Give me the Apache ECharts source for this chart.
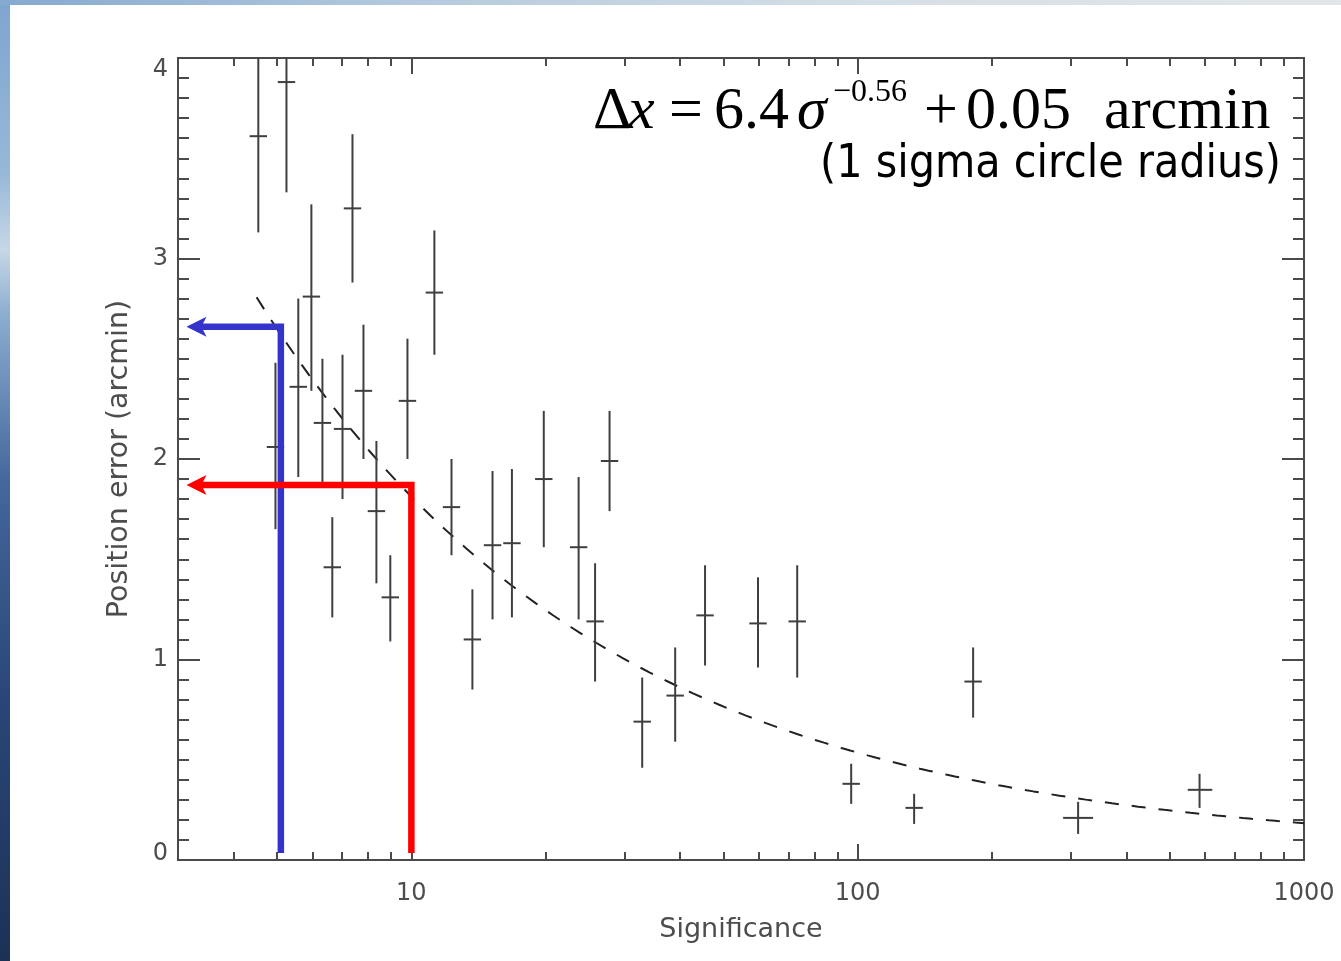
<!DOCTYPE html>
<html>
<head>
<meta charset="utf-8">
<script src="https://cdn.jsdelivr.net/npm/echarts@6/dist/echarts.min.js"></script>
<style>
  html, body { margin: 0; padding: 0; background: #fff; }
  #chart { width: 1341px; height: 961px; }
</style>
</head>
<body>
<div id="chart"></div>
<script>
// Detection significance of each source (x) and its measured position error (arcmin)
const sigma    = [4.54, 5.25, 4.96, 5.58, 5.97, 6.32, 6.65, 7.01, 7.38, 7.81, 8.35, 8.97, 9.80, 11.26, 12.3, 13.7,
                  15.2, 16.8, 19.8, 23.7, 25.8, 27.8, 32.9, 39.0, 45.5, 59.8, 73.2, 96.7, 133.8, 181.4, 311.8, 583.4];
const posErr   = [3.61, 3.88, 2.06, 2.36, 2.81, 2.18, 1.46, 2.15, 3.25, 2.34, 1.74, 1.31, 2.29, 2.83, 1.76, 1.10,
                  1.57, 1.58, 1.90, 1.56, 1.19, 1.99, 0.69, 0.82, 1.22, 1.18, 1.19, 0.38, 0.26, 0.89, 0.21, 0.35];
const errLow   = [3.13, 3.33, 1.65, 1.91, 2.34, 1.86, 1.21, 1.80, 2.88, 2.00, 1.38, 1.09, 2.00, 2.52, 1.52, 0.85,
                  1.20, 1.21, 1.56, 1.20, 0.89, 1.74, 0.46, 0.59, 0.97, 0.96, 0.91, 0.28, 0.18, 0.71, 0.13, 0.26];
const errHigh  = [4.08, 4.43, 2.48, 2.80, 3.27, 2.50, 1.71, 2.52, 3.62, 2.67, 2.09, 1.52, 2.60, 3.14, 2.00, 1.35,
                  1.94, 1.95, 2.24, 1.91, 1.48, 2.24, 0.91, 1.06, 1.47, 1.41, 1.47, 0.48, 0.33, 1.06, 0.29, 0.43];
// Significance range of the two widest bins (others use the default marker width)
const sigLow   = [null, null, null, null, null, null, null, null, null, null, null, null, null, null, null, null,
                  null, null, null, null, null, null, null, null, null, null, null, null, null, null, 288.6, 549.0];
const sigHigh  = [null, null, null, null, null, null, null, null, null, null, null, null, null, null, null, null,
                  null, null, null, null, null, null, null, null, null, null, null, null, null, null, 336.9, 623.0];

// Fitted relation: dx = fitNorm * sigma^fitIndex + fitOffset
const fitNorm = 6.4, fitIndex = -0.56, fitOffset = 0.05;
const fitStart = 4.5, fitEnd = 1000;

// Read-off guides
const blueGuide = { sigma: 5.1, level: 2.66 };
const redGuide  = { sigma: 10,  level: 1.87 };
const guideBase = 0.035, guideTip = 3.3;

// Axis ticks
const xMajorTicks = [10, 100, 1000];
const xMinorTicks = [4, 5, 6, 7, 8, 9, 20, 30, 40, 50, 60, 70, 80, 90, 200, 300, 400, 500, 600, 700, 800, 900];
const xRange = [3, 1000];
const yRange = [0, 4];

const fitCurve = [];
for (let k = 0; k <= 120; k++) {
  const s = fitStart * Math.pow(fitEnd / fitStart, k / 120);
  fitCurve.push([s, fitNorm * Math.pow(s, fitIndex) + fitOffset]);
}

const crosses = sigma.map((s, i) => [s, posErr[i], errLow[i], errHigh[i],
  sigLow[i] == null ? '-' : sigLow[i], sigHigh[i] == null ? '-' : sigHigh[i]]);

const axisColor = '#4a4a4a';
const labelFont = 'DejaVu Sans';
const labelColor = '#4d4d4d';

function logAxis(position, ticks, len, withLabels) {
  return {
    type: 'log', logBase: 10, min: xRange[0], max: xRange[1], position: position,
    axisLine: { show: true, lineStyle: { color: axisColor, width: 2 } },
    axisTick: { show: true, inside: true, length: len, customValues: ticks,
                lineStyle: { color: axisColor, width: 2 } },
    axisLabel: withLabels ? {
      show: true, customValues: ticks, margin: 22,
      fontFamily: labelFont, fontSize: 24, color: labelColor,
      formatter: v => String(Math.round(v))
    } : { show: false },
    splitLine: { show: false }, minorTick: { show: false }, minorSplitLine: { show: false }
  };
}

const yTickRich = {
  lo: { fontFamily: labelFont, fontSize: 24, color: labelColor, padding: [0, 0, 12, 0] },
  hi: { fontFamily: labelFont, fontSize: 24, color: labelColor, padding: [24, 0, 0, 0] }
};

function linAxis(position, withLabels) {
  return {
    type: 'value', min: yRange[0], max: yRange[1], interval: 1, position: position,
    axisLine: { show: true, lineStyle: { color: axisColor, width: 2 } },
    axisTick: { show: true, inside: true, length: 22, lineStyle: { color: axisColor, width: 2 } },
    minorTick: { show: true, splitNumber: 10, length: 11, lineStyle: { color: axisColor, width: 2 } },
    axisLabel: withLabels ? {
      show: true, margin: 10, fontFamily: labelFont, fontSize: 24, color: labelColor,
      rich: yTickRich,
      formatter: v => v === yRange[0] ? '{lo|' + v + '}' : (v === yRange[1] ? '{hi|' + v + '}' : String(v))
    } : { show: false },
    splitLine: { show: false }, minorSplitLine: { show: false }
  };
}

const xBottom = logAxis('bottom', xMajorTicks, 16, true);
Object.assign(xBottom, {
  name: 'Significance', nameLocation: 'middle', nameGap: 56,
  nameTextStyle: { fontFamily: labelFont, fontSize: 27, color: labelColor }
});
const yLeft = linAxis('left', true);
Object.assign(yLeft, {
  name: 'Position error (arcmin)', nameLocation: 'middle', nameGap: 44,
  nameTextStyle: { fontFamily: labelFont, fontSize: 28.5, color: labelColor }
});

const serif = 'Liberation Serif, Times New Roman, serif';
const mainSize = 60, supSize = 32, mainBaselineMid = 112;
function piece(x, text, opts) {
  return {
    type: 'text', x: x, y: (opts && opts.y) || mainBaselineMid, z: 50,
    style: Object.assign({
      text: text, fill: '#000', font: 'normal ' + mainSize + 'px ' + serif,
      textAlign: 'left', textVerticalAlign: 'middle'
    }, opts && opts.style)
  };
}

const guideBlue = '#3434cc', guideRed = '#ff0000';
const arrowPath = 'path://M0,10 L20,0 L15,10 L20,20 Z';

const chart = echarts.init(document.getElementById('chart'), null, { renderer: 'canvas' });
chart.setOption({
  backgroundColor: '#ffffff',
  animation: false,
  grid: { left: 178, right: 37, top: 58, bottom: 101, containLabel: false },
  xAxis: [
    xBottom,
    logAxis('bottom', xMinorTicks, 8, false),
    logAxis('top', xMajorTicks, 16, false),
    logAxis('top', xMinorTicks, 8, false)
  ],
  yAxis: [yLeft, linAxis('right', false)],
  graphic: [
    // slide frame strips
    { type: 'rect', left: 0, top: 0, z: -10, shape: { width: 10, height: 961 },
      style: { fill: new echarts.graphic.LinearGradient(0, 0, 0, 1, [
        { offset: 0, color: '#7fa5cf' }, { offset: 0.18, color: '#97b8d8' },
        { offset: 0.26, color: '#c6d7e6' }, { offset: 0.33, color: '#8aaccf' },
        { offset: 0.5, color: '#45679c' }, { offset: 0.72, color: '#2a4778' },
        { offset: 1, color: '#1d3156' }]) } },
    { type: 'rect', left: 0, top: 0, z: -10, shape: { width: 1341, height: 5 },
      style: { fill: new echarts.graphic.LinearGradient(0, 0, 1, 0, [
        { offset: 0, color: '#86a9d0' }, { offset: 0.3, color: '#b3c9de' },
        { offset: 0.65, color: '#d6dfe6' }, { offset: 1, color: '#e2e6e8' }]) } },
    // fitted relation
    piece(593, 'Δ'),
    piece(628, 'x', { style: { font: 'italic ' + mainSize + 'px ' + serif } }),
    piece(669, '='),
    piece(714, '6.4'),
    piece(797, 'σ', { style: { font: 'italic ' + mainSize + 'px ' + serif } }),
    piece(833, '\u22120.56', { y: 93, style: { font: 'normal ' + supSize + 'px ' + serif } }),
    piece(924, '+'),
    piece(966, '0.05'),
    piece(1104, 'arcmin'),
    { type: 'text', x: 1281, y: 165, z: 50,
      style: { text: '(1 sigma circle radius)', fill: '#000',
               font: 'normal 46px "DejaVu Sans Condensed", "Liberation Sans", sans-serif',
               textAlign: 'right', textVerticalAlign: 'middle' } }
  ],
  series: [
    {
      type: 'custom', name: 'sources', xAxisIndex: 0, yAxisIndex: 0, clip: true, z: 3,
      data: crosses,
      renderItem: function (params, api) {
        const s = api.value(0), v = api.value(1), lo = api.value(2), hi = api.value(3);
        const sl = api.value(4), sh = api.value(5);
        const c = api.coord([s, v]);
        const top = api.coord([s, hi]), bot = api.coord([s, lo]);
        let x1 = c[0] - 8.7, x2 = c[0] + 8.7;
        if (isFinite(sl) && isFinite(sh) && sl > 0 && sh > 0) {
          x1 = api.coord([sl, v])[0];
          x2 = api.coord([sh, v])[0];
        }
        const st = { stroke: '#3f3f3f', lineWidth: 2 };
        return {
          type: 'group',
          children: [
            { type: 'line', shape: { x1: c[0], y1: top[1], x2: c[0], y2: bot[1] }, style: st },
            { type: 'line', shape: { x1: x1, y1: c[1], x2: x2, y2: c[1] }, style: st }
          ]
        };
      }
    },
    {
      type: 'line', name: 'fit', data: fitCurve, showSymbol: false, symbol: 'none', z: 2,
      smooth: false, lineStyle: { color: '#222', width: 2, type: [14, 13] }
    },
    {
      type: 'line', name: 'blue guide', showSymbol: false, symbol: 'none', z: 6,
      data: [[blueGuide.sigma, guideBase], [blueGuide.sigma, blueGuide.level], [guideTip, blueGuide.level]],
      lineStyle: { color: guideBlue, width: 6.5, join: 'miter', cap: 'butt' },
      emphasis: { disabled: true }
    },
    {
      type: 'line', name: 'red guide', showSymbol: false, symbol: 'none', z: 6,
      data: [[redGuide.sigma, guideBase], [redGuide.sigma, redGuide.level], [guideTip, redGuide.level]],
      lineStyle: { color: guideRed, width: 6.5, join: 'miter', cap: 'butt' },
      emphasis: { disabled: true }
    },
    {
      type: 'scatter', name: 'arrow heads', z: 7, symbol: arrowPath, symbolSize: [20, 20],
      symbolKeepAspect: false,
      data: [
        { value: [guideTip, blueGuide.level], itemStyle: { color: guideBlue, opacity: 1 } },
        { value: [guideTip, redGuide.level], itemStyle: { color: guideRed, opacity: 1 } }
      ]
    }
  ]
});
</script>
</body>
</html>
